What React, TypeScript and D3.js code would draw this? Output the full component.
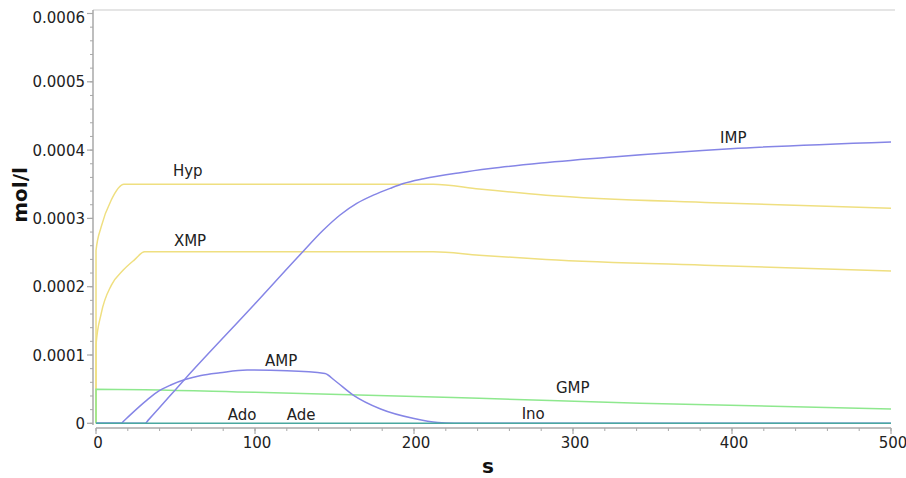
import React from "react";
import * as d3 from "d3";

const hypT = [0, 0.01, 3.3, 9.6, 17.6, 100, 212, 241, 283, 388, 500];
const hypV = [0, 0.000253, 0.000288, 0.000327, 0.00035, 0.00035, 0.00035, 0.000343, 0.000334, 0.000323, 0.000315];

const xmpT = [0, 0.01, 3.3, 9.6, 17, 24, 30.6, 212, 241, 283, 388, 500];
const xmpV = [0, 0.000115, 0.000161, 0.000202, 0.000224, 0.000239, 0.000251, 0.000251, 0.000246, 0.00024, 0.000231, 0.000223];

const impT = [0, 31, 33, 56, 100, 128, 143, 153.5, 164, 174.4, 185, 193.3, 206, 229, 248, 280, 325, 399, 500];
const impV = [0, 0, 0.000005, 0.000065, 0.000175, 0.000246, 0.000283, 0.000305, 0.000322, 0.000334, 0.000344, 0.000351, 0.000358, 0.000367, 0.000373, 0.000381, 0.00039, 0.000402, 0.000412];

const ampT = [0, 16, 17, 21.4, 32, 38, 47, 56, 66, 78, 95, 120, 144, 150, 162, 179, 200, 215, 225, 500];
const ampV = [0, 0, 0.0000022, 0.000012, 0.000034, 0.000045, 0.000056, 0.000064, 0.00007, 0.000074, 0.000078, 0.000077, 0.000073, 0.000063, 0.000041, 0.000021, 0.000007, 0.000001, 0, 0];

const gmpT = [0, 0.01, 100, 241, 342, 500];
const gmpV = [0, 0.00005, 0.0000455, 0.0000366, 0.0000295, 0.000021];

const zeroT = [0, 500];
const zeroV = [0, 0];

const yTicks = [0, 0.0001, 0.0002, 0.0003, 0.0004, 0.0005, 0.0006];
const xTicks = [0, 100, 200, 300, 400, 500];

const labels = [
  { name: "Hyp", t: 48.4, v: 0.000362 },
  { name: "XMP", t: 49, v: 0.000259 },
  { name: "IMP", t: 392.5, v: 0.00041 },
  { name: "AMP", t: 106.3, v: 0.0000839 },
  { name: "GMP", t: 289.3, v: 0.0000439 },
  { name: "Ado", t: 82.8, v: 0.0000048 },
  { name: "Ade", t: 120, v: 0.0000048 },
  { name: "Ino", t: 267.7, v: 0.0000063 },
];

const W = 906;
const H = 478;
const FONT = "DejaVu Sans, Verdana, sans-serif";

export default function App() {
  const x = d3.scaleLinear().domain([0, 500]).range([96, 891]);
  const y = d3.scaleLinear().domain([0, 0.0006]).range([423.3, 13.5]);

  const line = d3
    .line<[number, number]>()
    .x((d) => x(d[0]))
    .y((d) => y(d[1]))
    .curve(d3.curveMonotoneX);

  const mk = (ts: number[], vs: number[]) => line(ts.map((t, i) => [t, vs[i]] as [number, number])) || "";

  const series = [
    { d: mk(hypT, hypV), c: "#efdf80" },
    { d: mk(xmpT, xmpV), c: "#efdf80" },
    { d: mk(gmpT, gmpV), c: "#8ee88e" },
    { d: mk(ampT, ampV), c: "#8585e6" },
    { d: mk(impT, impV), c: "#8585e6" },
    { d: mk(zeroT, zeroV), c: "#4aa8a0" },
  ];

  const xMinor = d3.range(0, 501, 20);
  const yMinor = d3.range(0, 0.000601, 0.00002);
  const axisColor = "#a8a8a8";
  const axisX = 93;
  const axisY = 428;

  return (
    <svg width={W} height={H} style={{ position: "absolute", left: 0, top: 0, background: "#fff" }}>
      <rect x={0} y={0} width={W} height={H} fill="#fff" />
      <line x1={axisX} x2={895} y1={10} y2={10} stroke="#dddddd" strokeWidth={1.5} />
      <line x1={axisX} x2={axisX} y1={10} y2={425} stroke={axisColor} strokeWidth={1.5} />
      {yMinor.map((v, i) => (
        <line key={"ym" + i} x1={axisX - 3} x2={axisX} y1={y(v)} y2={y(v)} stroke={axisColor} strokeWidth={1} />
      ))}
      {yTicks.map((v, i) => (
        <g key={"yt" + i}>
          <line x1={axisX - 6} x2={axisX} y1={y(v)} y2={y(v)} stroke={axisColor} strokeWidth={1.2} />
          <text
            x={85}
            y={Math.max(y(v) + 5.5, 23)}
            textAnchor="end"
            fontFamily={FONT}
            fontSize={15}
            fill="#222"
          >
            {v === 0 ? "0" : v.toFixed(4)}
          </text>
        </g>
      ))}
      <line x1={x(0)} x2={x(500)} y1={axisY} y2={axisY} stroke={axisColor} strokeWidth={1.5} />
      {xMinor.map((t, i) => (
        <line key={"xm" + i} x1={x(t)} x2={x(t)} y1={axisY} y2={axisY + 3} stroke={axisColor} strokeWidth={1} />
      ))}
      {xTicks.map((t, i) => (
        <g key={"xt" + i}>
          <line x1={x(t)} x2={x(t)} y1={axisY} y2={axisY + 6} stroke={axisColor} strokeWidth={1.2} />
          <text x={x(t) + 2} y={448} textAnchor="middle" fontFamily={FONT} fontSize={15} fill="#222">
            {t}
          </text>
        </g>
      ))}
      {series.map((s, i) => (
        <path key={"s" + i} d={s.d} fill="none" stroke={s.c} strokeWidth={1.5} />
      ))}
      {labels.map((l) => (
        <text key={l.name} x={x(l.t)} y={y(l.v)} fontFamily={FONT} fontSize={15} fill="#222">
          {l.name}
        </text>
      ))}
      <text
        transform={`translate(27,195) rotate(-90)`}
        textAnchor="middle"
        fontFamily={FONT}
        fontSize={20}
        fontWeight="bold"
        fill="#111"
      >
        mol/l
      </text>
      <text x={488} y={473} textAnchor="middle" fontFamily={FONT} fontSize={20} fontWeight="bold" fill="#111">
        s
      </text>
    </svg>
  );
}
